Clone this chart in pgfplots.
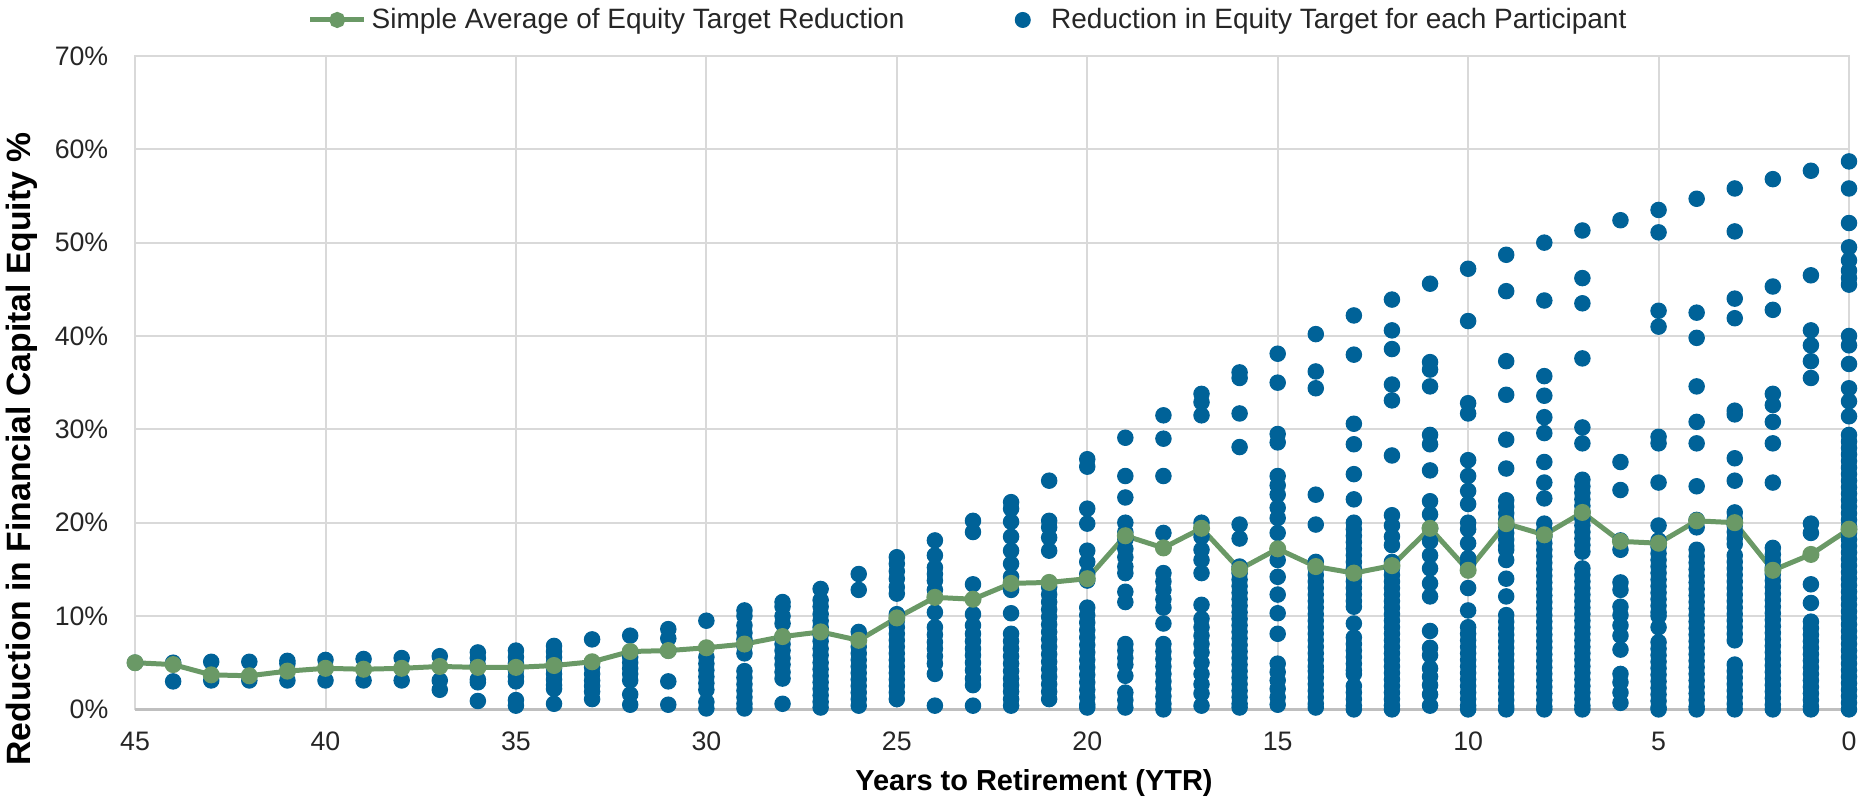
\documentclass[border=0pt]{standalone}
\usepackage{fontspec}
\setmainfont{Liberation Sans}
\usepackage{pgfplots}
\pgfplotsset{compat=1.18}
\definecolor{dotblue}{RGB}{0,98,152}
\definecolor{avggreen}{RGB}{106,153,102}
\definecolor{gridgray}{RGB}{217,217,217}
\definecolor{axisgray}{RGB}{191,191,191}
\pgfplotsset{bluelegend/.style={legend image code/.code={\path[draw=none,fill=none] (-0.1cm,0cm) rectangle (0.33cm,0.01cm); \draw[##1] plot coordinates {(0cm,0cm)};}}}
\begin{document}
\begin{tikzpicture}
\useasboundingbox (-54.1pt,-36.6pt) rectangle (696.0pt,284.1pt);
\begin{axis}[
  scale only axis,
  width=686.4pt, height=261.7pt,
  x dir=reverse,
  xmin=0, xmax=45, ymin=0, ymax=70,
  xtick={0,5,10,15,20,25,30,35,40,45},
  xticklabels={0,5,10,15,20,25,30,35,40,45},
  ytick={0,10,20,30,40,50,60,70},
  yticklabels={0\%,10\%,20\%,30\%,40\%,50\%,60\%,70\%},
  major tick length=0pt,
  grid=major,
  major grid style={draw=gridgray, line width=0.8pt},
  axis line style={draw=gridgray, line width=0.8pt},
  tick label style={font=\fontsize{10.7}{12}\selectfont, text=black!85},
  xticklabel style={yshift=-5.6pt},
  yticklabel style={xshift=-7.2pt},
  clip=false,
  xlabel={Years to Retirement (YTR)},
  ylabel={Reduction in Financial Capital Equity \%},
  xlabel style={font=\bfseries\fontsize{11.6}{13}\selectfont, at={([xshift=16.8pt,yshift=-29.4pt]axis description cs:0.5,0)}, anchor=center},
  ylabel style={font=\bfseries\fontsize{13.5}{15}\selectfont, at={([xshift=-45.3pt,yshift=-26.6pt]axis description cs:0,0.5)}, anchor=center},
  legend columns=2,
  legend style={at={(0.4869,1)}, anchor=center, yshift=14.4pt, draw=none, fill=none,
    font=\fontsize{11.2}{13}\selectfont, text=black!85,
    /tikz/every even column/.append style={column sep=42.4pt}},
  legend image code/.code={\draw[mark repeat=2,mark phase=2,#1] plot coordinates {(0cm,0cm) (0.38cm,0cm) (0.76cm,0cm)};},
]
\addlegendimage{avggreen, line width=2pt, mark=*, mark size=2.2pt, mark options={fill=avggreen, draw=avggreen}}
\addlegendentry{Simple Average of Equity Target Reduction}
\addlegendimage{only marks, mark=*, mark size=3pt, mark options={fill=dotblue, draw=dotblue}, bluelegend}
\addlegendentry{Reduction in Equity Target for each Participant}

\addplot[forget plot, only marks, mark=*, mark size=3.1pt, mark options={fill=dotblue, draw=dotblue}] coordinates {
(45,5.0)
(44,5.0)(44,3.0)
(43,5.1)(43,3.1)
(42,5.1)(42,3.1)
(41,5.2)(41,4.9)(41,3.1)
(40,5.3)(40,3.1)
(39,5.4)(39,3.1)
(38,5.5)(38,3.1)
(37,5.7)(37,3.1)(37,2.1)
(36,6.1)(36,5.5)(36,4.7)(36,3.2)(36,2.9)(36,0.9)
(35,6.3)(35,5.6)(35,4.9)(35,4.2)(35,3.5)(35,3.0)(35,1.0)(35,0.4)
(34,6.8)(34,6.2)(34,5.6)(34,5.0)(34,4.4)(34,3.8)(34,3.2)(34,2.6)(34,2.2)(34,0.6)
(33,7.5)(33,4.5)(33,3.8)(33,3.1)(33,2.5)(33,1.9)(33,1.1)
(32,7.9)(32,6.1)(32,5.6)(32,5.0)(32,4.4)(32,3.8)(32,3.1)(32,1.6)(32,0.5)
(31,8.6)(31,7.6)(31,6.3)(31,3.0)(31,0.5)
(30,9.5)(30,5.6)(30,4.9)(30,4.2)(30,3.5)(30,2.8)(30,2.1)(30,0.8)(30,0.1)
(29,10.6)(29,10.0)(29,9.0)(29,8.2)(29,7.5)(29,6.8)(29,6.0)(29,4.1)(29,3.4)(29,2.7)(29,2.0)(29,1.3)(29,0.6)(29,0.1)
(28,11.5)(28,11.0)(28,10.0)(28,9.2)(28,7.7)(28,7.0)(28,6.3)(28,5.5)(28,4.8)(28,4.0)(28,3.3)(28,0.6)
(27,12.9)(27,11.7)(27,11.0)(27,10.2)(27,9.5)(27,8.8)(27,8.0)(27,7.3)(27,6.5)(27,5.8)(27,5.0)(27,4.3)(27,3.6)(27,2.9)(27,2.2)(27,1.5)(27,0.8)(27,0.2)
(26,14.5)(26,12.8)(26,8.3)(26,6.7)(26,6.0)(26,5.3)(26,4.6)(26,3.9)(26,3.2)(26,2.5)(26,1.8)(26,1.1)(26,0.4)
(25,16.3)(25,15.6)(25,14.8)(25,14.0)(25,13.1)(25,12.4)(25,10.2)(25,9.5)(25,8.8)(25,8.1)(25,7.4)(25,6.7)(25,6.0)(25,5.3)(25,4.6)(25,3.9)(25,3.2)(25,2.5)(25,1.8)(25,1.1)
(24,18.1)(24,16.5)(24,15.2)(24,14.5)(24,13.8)(24,12.8)(24,10.4)(24,8.8)(24,8.0)(24,7.2)(24,6.5)(24,5.7)(24,4.9)(24,3.8)(24,0.4)
(23,20.2)(23,19.0)(23,13.4)(23,10.2)(23,9.0)(23,8.1)(23,7.3)(23,6.5)(23,5.8)(23,5.0)(23,4.2)(23,3.3)(23,2.6)(23,0.4)
(22,22.2)(22,21.5)(22,20.1)(22,18.5)(22,17.0)(22,15.6)(22,14.2)(22,12.8)(22,10.3)(22,8.1)(22,7.3)(22,6.5)(22,5.7)(22,4.9)(22,4.1)(22,3.3)(22,2.6)(22,1.9)(22,1.1)(22,0.4)
(21,24.5)(21,20.2)(21,19.5)(21,18.4)(21,17.0)(21,13.1)(21,12.3)(21,11.5)(21,10.7)(21,9.9)(21,9.1)(21,8.3)(21,7.5)(21,6.7)(21,5.9)(21,5.1)(21,4.3)(21,3.5)(21,2.7)(21,1.9)(21,1.1)
(20,26.8)(20,26.0)(20,21.5)(20,19.9)(20,17.0)(20,15.8)(20,14.5)(20,13.8)(20,10.9)(20,10.1)(20,9.3)(20,8.5)(20,7.7)(20,6.9)(20,6.1)(20,5.3)(20,4.5)(20,3.7)(20,2.9)(20,2.1)(20,1.3)(20,0.5)(20,0.2)
(19,29.1)(19,25.0)(19,22.7)(19,20.0)(19,19.0)(19,18.2)(19,17.2)(19,16.3)(19,15.3)(19,14.6)(19,12.6)(19,11.5)(19,7.0)(19,6.3)(19,5.5)(19,4.8)(19,3.6)(19,1.8)(19,1.0)(19,0.2)
(18,31.5)(18,29.0)(18,25.0)(18,18.9)(18,14.6)(18,13.7)(18,12.8)(18,11.8)(18,10.9)(18,9.2)(18,7.0)(18,6.2)(18,5.4)(18,4.6)(18,3.8)(18,3.0)(18,2.2)(18,1.4)(18,0.6)(18,0.0)
(17,33.8)(17,32.9)(17,31.5)(17,20.0)(17,18.5)(17,17.1)(17,16.0)(17,14.6)(17,11.2)(17,9.7)(17,8.8)(17,7.9)(17,7.0)(17,6.1)(17,5.0)(17,3.8)(17,2.7)(17,1.7)(17,0.4)
(16,36.1)(16,35.5)(16,31.7)(16,28.1)(16,19.8)(16,18.3)(16,15.3)(16,14.6)(16,13.9)(16,13.2)(16,12.5)(16,11.8)(16,11.1)(16,10.4)(16,9.7)(16,9.0)(16,8.3)(16,7.6)(16,6.9)(16,6.2)(16,5.5)(16,4.8)(16,4.1)(16,3.4)(16,2.7)(16,2.0)(16,1.3)(16,0.6)(16,0.2)
(15,38.1)(15,35.0)(15,29.5)(15,28.6)(15,25.0)(15,24.0)(15,23.0)(15,21.6)(15,20.5)(15,18.9)(15,16.0)(15,14.2)(15,12.3)(15,10.3)(15,8.1)(15,4.9)(15,4.0)(15,3.1)(15,2.2)(15,1.3)(15,0.5)
(14,40.2)(14,36.2)(14,34.4)(14,23.0)(14,19.8)(14,15.8)(14,15.1)(14,14.4)(14,13.7)(14,13.0)(14,12.3)(14,11.6)(14,10.9)(14,10.2)(14,9.5)(14,8.8)(14,8.1)(14,7.4)(14,6.7)(14,6.0)(14,5.3)(14,4.6)(14,4.1)(14,3.4)(14,2.7)(14,2.0)(14,1.3)(14,0.6)(14,0.2)
(13,42.2)(13,38.0)(13,30.6)(13,28.4)(13,25.2)(13,22.5)(13,20.0)(13,19.3)(13,18.6)(13,17.9)(13,17.2)(13,16.5)(13,15.8)(13,15.1)(13,14.4)(13,13.7)(13,13.0)(13,12.3)(13,11.6)(13,11.0)(13,9.2)(13,7.7)(13,7.0)(13,6.3)(13,5.6)(13,4.9)(13,4.2)(13,3.8)(13,2.5)(13,1.8)(13,1.1)(13,0.4)(13,0.0)
(12,43.9)(12,40.6)(12,38.6)(12,34.8)(12,33.1)(12,27.2)(12,20.8)(12,19.7)(12,18.5)(12,17.6)(12,15.8)(12,15.1)(12,14.4)(12,13.7)(12,13.0)(12,12.3)(12,11.6)(12,10.9)(12,10.2)(12,9.5)(12,8.8)(12,8.1)(12,7.4)(12,6.7)(12,6.0)(12,5.3)(12,4.6)(12,3.9)(12,3.2)(12,2.5)(12,1.8)(12,1.1)(12,0.4)(12,0.0)
(11,45.6)(11,37.2)(11,36.4)(11,34.6)(11,29.4)(11,28.4)(11,25.6)(11,22.3)(11,20.9)(11,19.4)(11,18.0)(11,16.5)(11,15.1)(11,13.5)(11,12.1)(11,8.4)(11,6.6)(11,5.8)(11,4.4)(11,3.5)(11,2.6)(11,1.6)(11,0.4)
(10,47.2)(10,41.6)(10,32.8)(10,31.7)(10,26.7)(10,25.0)(10,23.4)(10,22.0)(10,20.0)(10,19.3)(10,17.8)(10,16.2)(10,15.6)(10,13.0)(10,10.6)(10,8.8)(10,8.1)(10,7.4)(10,6.7)(10,6.0)(10,5.3)(10,4.6)(10,3.9)(10,3.2)(10,2.5)(10,1.8)(10,1.1)(10,0.4)(10,0.0)
(9,48.7)(9,44.8)(9,37.3)(9,33.7)(9,28.9)(9,25.8)(9,22.4)(9,21.7)(9,21.0)(9,20.3)(9,19.6)(9,18.9)(9,18.2)(9,17.5)(9,17.1)(9,16.0)(9,14.0)(9,12.1)(9,10.1)(9,9.4)(9,8.7)(9,8.0)(9,7.3)(9,6.6)(9,5.9)(9,5.2)(9,4.5)(9,3.8)(9,3.1)(9,2.4)(9,1.7)(9,1.0)(9,0.3)(9,0.0)
(8,50.0)(8,43.8)(8,35.7)(8,33.6)(8,31.3)(8,29.6)(8,26.5)(8,24.3)(8,22.6)(8,19.9)(8,19.2)(8,18.5)(8,17.8)(8,17.1)(8,16.4)(8,15.7)(8,15.0)(8,14.3)(8,13.6)(8,12.9)(8,12.2)(8,11.5)(8,10.8)(8,10.1)(8,9.4)(8,8.7)(8,8.0)(8,7.3)(8,6.6)(8,5.9)(8,5.2)(8,4.5)(8,3.8)(8,3.1)(8,2.4)(8,1.7)(8,1.0)(8,0.3)(8,0.0)
(7,51.3)(7,46.2)(7,43.5)(7,37.6)(7,30.2)(7,28.5)(7,24.6)(7,23.9)(7,23.2)(7,22.5)(7,21.8)(7,21.1)(7,20.4)(7,19.7)(7,19.0)(7,18.3)(7,17.6)(7,16.9)(7,15.1)(7,14.4)(7,13.7)(7,13.0)(7,12.3)(7,11.6)(7,10.9)(7,10.2)(7,9.5)(7,8.8)(7,8.1)(7,7.4)(7,6.7)(7,6.0)(7,5.3)(7,4.6)(7,3.9)(7,3.2)(7,2.5)(7,1.8)(7,1.1)(7,0.4)(7,0.0)
(6,52.4)(6,26.5)(6,23.5)(6,18.1)(6,17.1)(6,13.6)(6,12.8)(6,11.0)(6,10.1)(6,9.0)(6,7.9)(6,6.4)(6,3.8)(6,2.9)(6,1.8)(6,0.7)
(5,53.5)(5,51.1)(5,42.7)(5,41.0)(5,29.2)(5,28.5)(5,24.3)(5,19.7)(5,18.1)(5,17.4)(5,16.7)(5,16.0)(5,15.3)(5,14.6)(5,13.9)(5,13.2)(5,12.5)(5,11.8)(5,11.1)(5,10.4)(5,10.0)(5,8.8)(5,7.2)(5,6.5)(5,5.8)(5,5.1)(5,4.4)(5,3.7)(5,3.0)(5,2.3)(5,1.6)(5,0.9)(5,0.2)(5,0.0)
(4,54.7)(4,42.5)(4,39.8)(4,34.6)(4,30.8)(4,28.5)(4,23.9)(4,20.3)(4,19.5)(4,17.1)(4,16.4)(4,15.7)(4,15.0)(4,14.3)(4,13.6)(4,12.9)(4,12.2)(4,11.5)(4,10.8)(4,10.1)(4,9.4)(4,8.7)(4,8.0)(4,7.3)(4,6.6)(4,5.9)(4,5.2)(4,4.5)(4,3.8)(4,3.1)(4,2.4)(4,1.7)(4,1.0)(4,0.3)(4,0.0)
(3,55.8)(3,51.2)(3,44.0)(3,41.9)(3,32.0)(3,31.6)(3,26.9)(3,24.5)(3,21.1)(3,20.4)(3,19.7)(3,19.0)(3,18.3)(3,17.7)(3,16.5)(3,15.8)(3,15.1)(3,14.4)(3,13.7)(3,13.0)(3,12.3)(3,11.6)(3,10.9)(3,10.2)(3,9.5)(3,8.8)(3,8.1)(3,7.4)(3,4.8)(3,4.1)(3,3.4)(3,2.7)(3,2.0)(3,1.3)(3,0.6)(3,0.0)
(2,56.8)(2,45.3)(2,42.8)(2,33.8)(2,32.6)(2,30.8)(2,28.5)(2,24.3)(2,17.3)(2,16.6)(2,15.9)(2,15.2)(2,14.5)(2,13.8)(2,13.1)(2,12.4)(2,11.7)(2,11.0)(2,10.3)(2,9.6)(2,8.9)(2,8.2)(2,7.5)(2,6.8)(2,6.1)(2,5.4)(2,4.7)(2,4.0)(2,3.3)(2,2.6)(2,1.9)(2,1.2)(2,0.5)(2,0.0)
(1,57.7)(1,46.5)(1,40.6)(1,39.0)(1,37.3)(1,35.5)(1,19.9)(1,18.9)(1,13.4)(1,11.4)(1,9.4)(1,8.7)(1,8.0)(1,7.3)(1,6.6)(1,5.9)(1,5.2)(1,4.5)(1,3.8)(1,3.1)(1,2.4)(1,1.7)(1,1.0)(1,0.3)(1,0.0)
(0,58.7)(0,55.8)(0,52.1)(0,49.5)(0,48.1)(0,47.0)(0,46.2)(0,45.5)(0,40.0)(0,39.0)(0,37.0)(0,34.4)(0,33.0)(0,31.4)(0,29.4)(0,28.7)(0,28.0)(0,27.3)(0,26.6)(0,25.9)(0,25.2)(0,24.5)(0,23.8)(0,23.1)(0,22.4)(0,21.7)(0,21.0)(0,20.3)(0,19.6)(0,18.9)(0,18.2)(0,17.5)(0,16.8)(0,16.1)(0,15.4)(0,14.7)(0,14.0)(0,13.3)(0,12.6)(0,11.9)(0,11.2)(0,10.5)(0,9.8)(0,9.1)(0,8.4)(0,7.7)(0,7.0)(0,6.3)(0,5.6)(0,4.9)(0,4.2)(0,3.5)(0,2.8)(0,2.1)(0,1.4)(0,0.7)(0,0.0)
};
\addplot[forget plot, avggreen, line width=2pt, mark=*, mark size=2.4pt, mark options={fill=avggreen, draw=avggreen}] coordinates {
(45,5.0)(44,4.8)(43,3.7)(42,3.6)(41,4.1)(40,4.4)(39,4.3)(38,4.4)(37,4.6)(36,4.5)
(35,4.5)(34,4.7)(33,5.1)(32,6.2)(31,6.3)(30,6.6)(29,7.0)(28,7.8)(27,8.3)(26,7.4)
(25,9.8)(24,12.0)(23,11.8)(22,13.5)(21,13.6)(20,14.0)(19,18.6)(18,17.3)(17,19.4)(16,15.0)
(15,17.2)(14,15.3)(13,14.6)(12,15.4)(11,19.4)(10,14.9)(9,19.9)(8,18.7)(7,21.1)(6,18.0)
(5,17.8)(4,20.2)(3,20.0)(2,14.9)(1,16.6)(0,19.3)
};
\draw[axisgray, line width=0.9pt] (rel axis cs:0,0) -- (rel axis cs:1,0);
\end{axis}
\end{tikzpicture}
\end{document}
